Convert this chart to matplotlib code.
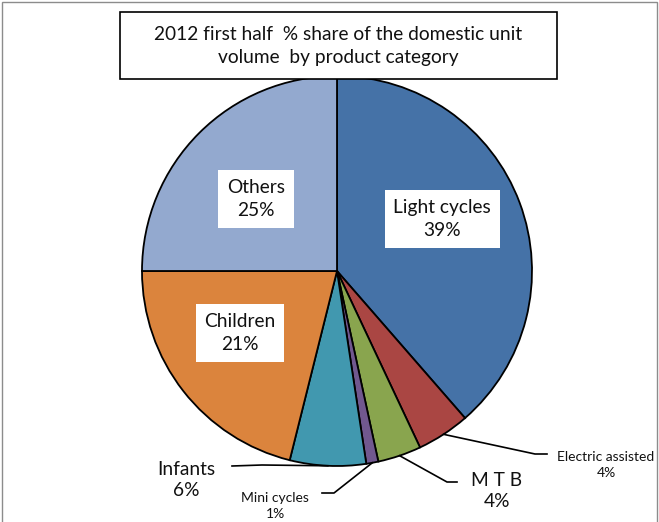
import matplotlib
matplotlib.use("Agg")
import matplotlib.pyplot as plt
from matplotlib.patches import Rectangle
import numpy as np

plt.rcParams['font.family'] = ['Lato', 'DejaVu Sans']

categories = ["Light cycles", "Electric assisted", "M T B", "Mini cycles",
              "Infants", "Children", "Others"]
shares = [38.6, 4.4, 3.6, 1.0, 6.3, 21.1, 25.0]
colors = ["#4572A7", "#AA4643", "#89A54E", "#71588F", "#4198AF", "#DB843D", "#93A9CF"]
title = "2012 first half  % share of the domestic unit\nvolume  by product category"

W, H = 659, 522


def px(x, y):
    # pixel coords (top-left origin) -> data coords
    return x, H - y


fig = plt.figure(figsize=(W / 100, H / 100), dpi=100)
ax = fig.add_axes([0, 0, 1, 1])

cx, cy = px(337, 271)
radius = 195
wedges, _ = ax.pie(shares, colors=colors, startangle=90, counterclock=False,
                   center=(cx, cy), radius=radius, frame=True,
                   wedgeprops=dict(edgecolor="black", linewidth=1.3))
ax.set_xlim(0, W)
ax.set_ylim(0, H)
ax.axis("off")

# inside labels: (label index, pixel position)
inside = {0: (442, 219), 6: (256, 199), 5: (240, 333)}
for i, (x, y) in inside.items():
    ax.text(*px(x, y), f"{categories[i]}\n{shares[i]:.0f}%", ha="center", va="center",
            fontsize=13.8, linespacing=1.45, color="#111111",
            bbox=dict(boxstyle="square,pad=0.45", facecolor="white", edgecolor="none"))

# outside labels with leader lines: index -> (elbow, line end, text pos, fontsize)
outside = {
    1: ((535, 454), (547, 454), (606, 465), 10),
    2: ((447, 482), (457, 482), (497, 491), 13.8),
    3: ((334, 493), (322, 493), (275, 506), 10),
    4: ((262, 465), (232, 466), (186, 480), 13.8),
}
cum = np.cumsum([0] + shares)
for i, (elbow, end, tpos, fs) in outside.items():
    mid = np.deg2rad(90 - 3.6 * (cum[i] + cum[i + 1]) / 2)
    sx = cx + radius * np.cos(mid)
    sy = cy + radius * np.sin(mid)
    xs = [sx, px(*elbow)[0], px(*end)[0]]
    ys = [sy, px(*elbow)[1], px(*end)[1]]
    ax.plot(xs, ys, color="black", lw=1.2)
    ax.text(*px(*tpos), f"{categories[i]}\n{shares[i]:.0f}%", ha="center", va="center",
            fontsize=fs, linespacing=1.35, color="#111111")

# title box
x0, y0 = px(120, 79)
ax.add_patch(Rectangle((x0, y0), 437, 67, facecolor="white", edgecolor="black",
                       lw=1.2, zorder=5))
ax.text(*px(338, 46), title, ha="center", va="center", fontsize=13.8,
        linespacing=1.45, color="#111111", zorder=6)

# outer chart border
fig.patches.append(Rectangle((0.003, -0.01), 0.994, 1.007, transform=fig.transFigure,
                             fill=False, edgecolor="#8c8c8c", lw=1))

fig.savefig("out.png", dpi=100)
